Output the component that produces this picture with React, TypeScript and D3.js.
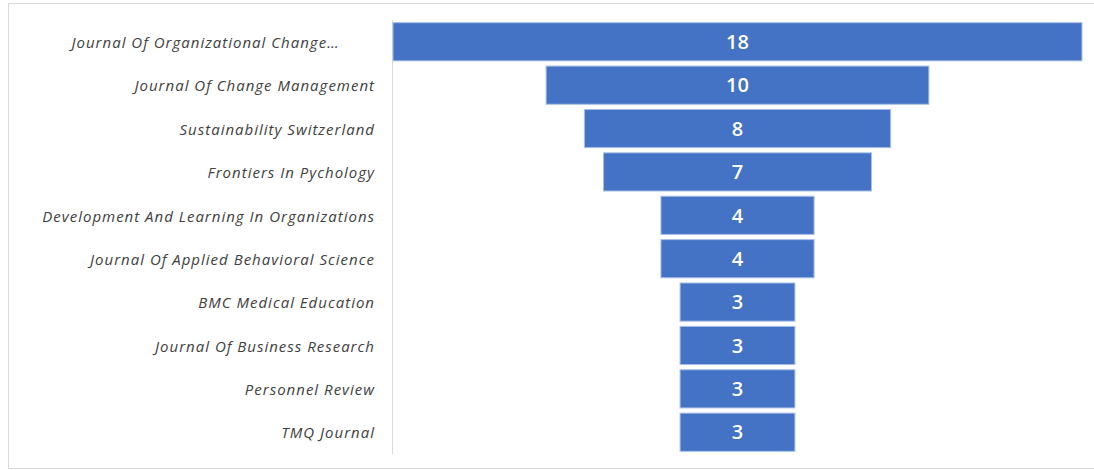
import { scaleBand, scaleLinear } from "d3";

const journals = [
  "Journal Of Organizational Change Management",
  "Journal Of Change Management",
  "Sustainability Switzerland",
  "Frontiers In Pychology",
  "Development And Learning In Organizations",
  "Journal Of Applied Behavioral Science",
  "BMC Medical Education",
  "Journal Of Business Research",
  "Personnel Review",
  "TMQ Journal",
];
const counts = [18, 10, 8, 7, 4, 4, 3, 3, 3, 3];
const maxLabelChars = 42;

export default function App() {
  const W = 1094;
  const H = 470;
  const plot = { left: 393, right: 1082, top: 20, bottom: 454 };
  const center = (plot.left + plot.right) / 2;

  const x = scaleLinear()
    .domain([0, Math.max(...counts)])
    .range([0, plot.right - plot.left]);

  const y = scaleBand<string>()
    .domain(journals)
    .range([plot.top, plot.bottom])
    .paddingInner(0.12)
    .paddingOuter(0.062);

  const labelArea = { left: 40, right: plot.left - 18 };

  return (
    <svg
      width={W}
      height={H}
      style={{ position: "absolute", left: 0, top: 0, background: "#fff" }}
    >
      <rect
        x={8.5}
        y={3.5}
        width={W + 10}
        height={H - 5}
        fill="#fff"
        stroke="#d9d9d9"
      />
      <line
        x1={plot.left - 0.5}
        x2={plot.left - 0.5}
        y1={plot.top}
        y2={plot.bottom}
        stroke="#d9d9d9"
      />
      {journals.map((j, i) => {
        const w = x(counts[i]);
        const y0 = y(j) ?? 0;
        const bw = y.bandwidth();
        const truncated = j.length > maxLabelChars;
        const label = truncated
          ? j.split(" ").slice(0, 4).join(" ") + "…"
          : j;
        return (
          <g key={j}>
            <rect
              x={center - w / 2}
              y={y0}
              width={w}
              height={bw}
              fill="#4472c4"
              stroke="#a9bfe6"
              strokeWidth={1}
            />
            <text
              x={center}
              y={y0 + bw / 2}
              dy="0.36em"
              textAnchor="middle"
              fill="#fff"
              fontFamily="'Open Sans', Lato, sans-serif"
              fontWeight={600}
              fontSize={20}
            >
              {counts[i]}
            </text>
            <text
              x={truncated ? (labelArea.left + labelArea.right) / 2 - 2 : labelArea.right}
              y={y0 + bw / 2 + 1}
              dy="0.35em"
              textAnchor={truncated ? "middle" : "end"}
              fill="#404040"
              fontFamily="'Open Sans', Lato, sans-serif"
              fontStyle="italic"
              fontSize={15}
              letterSpacing={1}
            >
              {label}
            </text>
          </g>
        );
      })}
    </svg>
  );
}
